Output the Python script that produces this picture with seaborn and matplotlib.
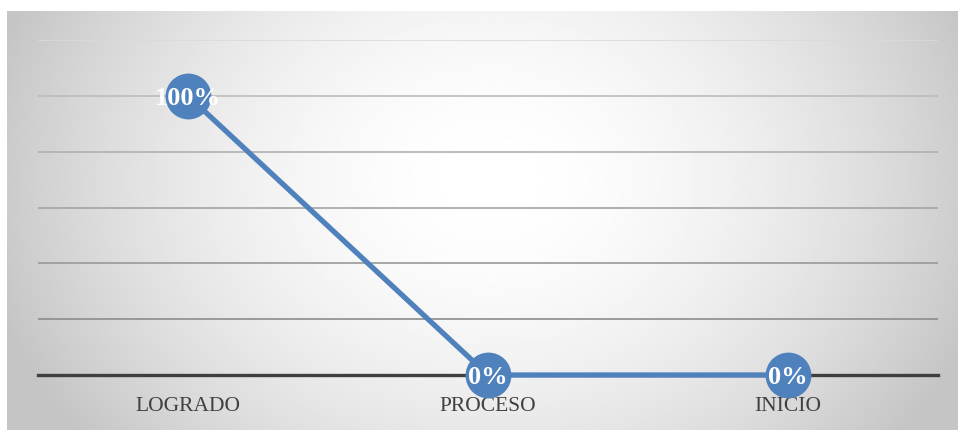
import numpy as np
import pandas as pd
import matplotlib
matplotlib.use("Agg")
import matplotlib.pyplot as plt
import seaborn as sns

# datos
categorias = ["LOGRADO", "PROCESO", "INICIO"]
valores = [1.0, 0.0, 0.0]
etiquetas = ["100%", "0%", "0%"]

df = pd.DataFrame({"nivel": categorias, "porcentaje": valores})

sns.set_style("white")
plt.rcParams["font.family"] = ["Liberation Serif", "DejaVu Serif"]

W, H = 958, 430
fig = plt.figure(figsize=(W / 100, H / 100), dpi=100)

# fondo con degradado radial (gris en los bordes, blanco al centro)
bg = fig.add_axes([7 / W, 0, (W - 7) / W, (H - 11) / H], zorder=0)
xx, yy = np.meshgrid(np.linspace(7, W, 400), np.linspace(11, H, 200))
d = np.sqrt(((xx - 490) / 520) ** 2 + ((yy - 180) / 420) ** 2)
g = 1 - 0.23 * np.clip(d, 0, 1.0) ** 1.8
bg.imshow(g, cmap="gray", vmin=0, vmax=1, aspect="auto", interpolation="bilinear")
bg.set_axis_off()

ax = fig.add_axes([38 / W, (H - 375) / H, 900 / W, 335 / H], zorder=1)
ax.patch.set_alpha(0)

sns.lineplot(data=df, x="nivel", y="porcentaje", ax=ax, color="#4f81bd",
             linewidth=3.8, marker="o", markersize=33, markeredgewidth=0,
             sort=False)
for ln in ax.lines:
    ln.set_clip_on(False)
    ln.set_zorder(4)

for i, (v, t) in enumerate(zip(valores, etiquetas)):
    ax.text(i, v - 0.01, t, ha="center", va="center", color="white",
            fontsize=19, fontweight="bold", zorder=5)

ax.set_xlim(-0.5, 2.5)
ax.set_ylim(0, 1.2)
ax.set_yticks(np.arange(0, 1.21, 0.2))
ax.set_yticklabels([])
ax.tick_params(axis="y", length=0)
ax.tick_params(axis="x", length=0, pad=16, labelsize=15.5, labelcolor="#404040")
ax.set_xlabel("")
ax.set_ylabel("")

ax.grid(axis="y", linewidth=1.2)
colores_grid = ["#3a3a3a", "#8c8c8c", "#999999", "#a3a3a3", "#b0b0b0", "#bcbcbc", "#dadada"]
for ln, c in zip(ax.get_ygridlines(), colores_grid):
    ln.set_color(c)

for s in ["top", "left", "right"]:
    ax.spines[s].set_visible(False)
ax.spines["bottom"].set_color("#3f3f3f")
ax.spines["bottom"].set_linewidth(2.4)
ax.spines["bottom"].set_zorder(3)

fig.savefig("out.png", dpi=100)
